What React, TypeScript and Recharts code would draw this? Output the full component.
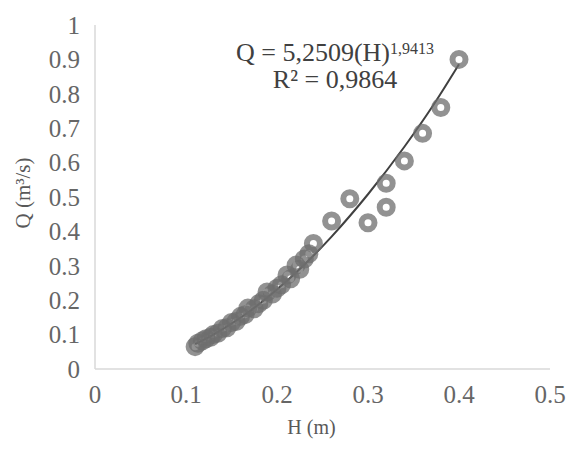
import React from 'react';
import {ComposedChart, Label, Line, Scatter, XAxis, YAxis} from "recharts";

// measured points (H in m, Q in m3/s)
const obsH = [0.11, 0.113, 0.118, 0.122, 0.127, 0.13, 0.135, 0.14, 0.145, 0.15, 0.155, 0.16, 0.165, 0.168, 0.175, 0.18,
    0.185, 0.189, 0.195, 0.2, 0.205, 0.211, 0.215, 0.221, 0.225, 0.23, 0.235, 0.24,
    0.26, 0.28, 0.3, 0.32, 0.32, 0.34, 0.36, 0.38, 0.4];
const obsQ = [0.065, 0.075, 0.082, 0.088, 0.092, 0.1, 0.104, 0.118, 0.12, 0.135, 0.138, 0.153, 0.158, 0.177, 0.175, 0.19,
    0.2, 0.224, 0.218, 0.235, 0.245, 0.273, 0.262, 0.302, 0.29, 0.32, 0.335, 0.365,
    0.43, 0.495, 0.425, 0.47, 0.54, 0.605, 0.685, 0.76, 0.9];

// power trend line
const trendH = [0.11, 0.13, 0.15, 0.17, 0.2, 0.23, 0.26, 0.3, 0.34, 0.37, 0.4];
const trendQ = [0.072, 0.1, 0.132, 0.168, 0.231, 0.303, 0.385, 0.508, 0.646, 0.76, 0.886];

const xTicks = [0, 0.1, 0.2, 0.3, 0.4, 0.5];
const yTicks = [0, 0.1, 0.2, 0.3, 0.4, 0.5, 0.6, 0.7, 0.8, 0.9, 1];

const points = obsH.map((h, i) => ({h, q: obsQ[i]}));
const trend = trendH.map((h, i) => ({h, q: trendQ[i]}));

const font = '"Liberation Serif", "Times New Roman", serif';
const tickStyle = {fontSize: 25, fill: "#666666", fontFamily: font};

function Ring(props: any) {
    return <circle cx={props.cx} cy={props.cy} r={6.5} fill="none" stroke="#6e6e6e" strokeOpacity={0.75} strokeWidth={6}/>;
}

function YTitle(props: any) {
    const vb = props.viewBox;
    const cy = vb.y + vb.height / 2 - 4;
    return (
        <text x={23} y={cy} transform={`rotate(-90 23 ${cy})`} textAnchor="middle" dominantBaseline="central"
              fontSize={21} fill="#595959" fontFamily={font}>Q (m³/s)</text>
    );
}

export default function App() {
    return (
        <div style={{position: "absolute", left: 0, top: 0, width: 571, height: 450, background: "#fff"}}>
            <ComposedChart width={571} height={450} margin={{top: 25, right: 21, bottom: 0, left: 35}}>
                <XAxis type="number" dataKey="h" domain={[0, 0.5]} ticks={xTicks} tickFormatter={(v) => String(v)}
                       axisLine={{stroke: "#d9d9d9", strokeWidth: 1.5}} tickLine={false} tickSize={0} tickMargin={16}
                       height={81} tick={tickStyle} interval={0}>
                    <Label value="H (m)" position="insideBottom" offset={16} dx={-11} fontSize={20} fill="#595959" fontFamily={font}/>
                </XAxis>
                <YAxis type="number" dataKey="q" domain={[0, 1]} ticks={yTicks} tickFormatter={(v) => String(v)}
                       axisLine={{stroke: "#d9d9d9", strokeWidth: 1.5}} tickLine={false} tickSize={0} tickMargin={15}
                       width={60} tick={tickStyle} interval={0}>
                    <Label content={<YTitle/>}/>
                </YAxis>
                <Scatter data={points} dataKey="q" shape={<Ring/>} isAnimationActive={false}/>
                <Line data={trend} dataKey="q" type="monotone" stroke="#404040" strokeWidth={2} dot={false}
                      activeDot={false} isAnimationActive={false}/>
            </ComposedChart>
            <div style={{position: "absolute", left: 185, width: 300, top: 40, textAlign: "center", fontFamily: font,
                fontSize: 26, lineHeight: "26px", color: "#404040", whiteSpace: "nowrap"}}>
                Q = 5,2509(H)<span style={{fontSize: 16, position: "relative", top: -7}}>1,9413</span>
            </div>
            <div style={{position: "absolute", left: 185, width: 300, top: 67, textAlign: "center", fontFamily: font,
                fontSize: 26, lineHeight: "26px", color: "#404040", whiteSpace: "nowrap"}}>
                R² = 0,9864
            </div>
        </div>
    );
}
